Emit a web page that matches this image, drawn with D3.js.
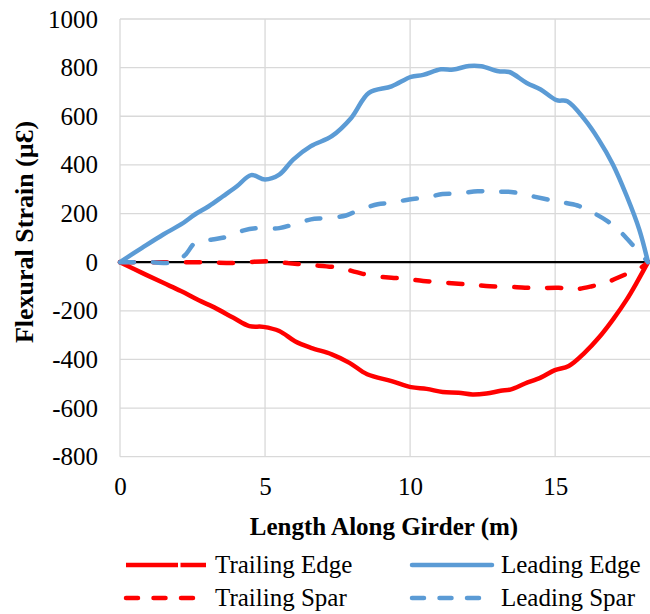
<!DOCTYPE html>
<html>
<head>
<meta charset="utf-8">
<script src="https://cdn.jsdelivr.net/npm/d3@7/dist/d3.min.js"></script>
<style>
  html, body { margin: 0; padding: 0; background: #fff; }
  svg { display: block; }
</style>
</head>
<body>
<svg id="chart" width="650" height="614"></svg>
<script>
// Flexural strain along the girder, four gauge lines (x in m, strain in µƐ)
const trailingEdgeX = [0, 0.76, 1.49, 2.1, 2.7, 3.31, 3.91, 4.46, 4.94, 5.49, 6.03, 6.58, 7.3, 7.91, 8.52, 9.36, 10.03, 10.57, 11.12, 11.67, 12.15, 12.63, 13.12, 13.48, 13.96, 14.5, 14.99, 15.47, 16.02, 16.5, 16.99, 17.47, 17.84, 18.2];
const trailingEdgeY = [0, -44, -85, -119, -156, -190, -229, -263, -266, -283, -325, -352, -379, -414, -461, -489, -514, -521, -534, -537, -544, -540, -529, -523, -499, -475, -444, -427, -372, -311, -236, -153, -78, 0];

const leadingEdgeX = [0, 0.76, 1.49, 2.1, 2.58, 3.06, 3.55, 4.03, 4.52, 5.0, 5.49, 5.97, 6.58, 7.3, 7.97, 8.58, 9.36, 10.03, 10.45, 11.06, 11.49, 12.03, 12.45, 13.05, 13.42, 14.02, 14.5, 15.05, 15.42, 16.02, 16.5, 16.99, 17.47, 17.9, 18.2];
const leadingEdgeY = [0, 59, 114, 155, 196, 230, 271, 312, 358, 340, 360, 422, 477, 518, 593, 696, 723, 762, 770, 793, 792, 807, 806, 785, 782, 737, 710, 666, 662, 586, 504, 402, 271, 134, 0];

const trailingSparX = [0, 1.0, 2.0, 3.0, 4.0, 5.1, 5.85, 6.58, 7.54, 8.15, 8.64, 9.36, 9.84, 10.45, 10.99, 11.67, 12.15, 12.75, 13.36, 13.96, 14.45, 15.12, 15.6, 16.27, 16.8, 17.41, 17.9, 18.2];
const trailingSparY = [0, 0, 0, -1, -3, 4, -5, -12, -23, -41, -55, -64, -68, -77, -82, -89, -93, -99, -101, -105, -107, -105, -112, -99, -82, -51, -27, 0];

const leadingSparX = [0, 1.0, 1.9, 2.25, 2.6, 3.18, 3.67, 4.27, 4.76, 5.49, 5.97, 6.58, 7.06, 7.79, 8.21, 8.88, 9.36, 9.97, 10.51, 11.12, 11.67, 12.33, 12.81, 13.48, 13.96, 14.62, 15.05, 15.77, 16.2, 16.8, 17.17, 17.71, 18.2];
const leadingSparY = [0, 0, 0, 30, 80, 93, 104, 131, 140, 140, 155, 176, 181, 192, 213, 238, 244, 258, 265, 280, 282, 292, 289, 289, 277, 261, 250, 233, 210, 169, 134, 66, 0];

const xTicks = [0, 5, 10, 15];
const yTicks = [-800, -600, -400, -200, 0, 200, 400, 600, 800, 1000];

const seriesNames = ["Trailing Edge", "Leading Edge", "Trailing Spar", "Leading Spar"];
const seriesColors = ["#FF0000", "#5B9BD5", "#FF0000", "#5B9BD5"];
const seriesDashed = [false, false, true, true];

const xLabel = "Length Along Girder (m)";
const yLabel = "Flexural Strain (µƐ)";

const serif = "'Liberation Serif', 'Times New Roman', serif";

const series = [
  d3.zip(trailingEdgeX, trailingEdgeY),
  d3.zip(leadingEdgeX, leadingEdgeY),
  d3.zip(trailingSparX, trailingSparY),
  d3.zip(leadingSparX, leadingSparY)
];

const svg = d3.select("#chart");
const plot = { left: 120, right: 648, top: 19, bottom: 456.7 };

const x = d3.scaleLinear().domain([0, 18.2]).range([plot.left, plot.right]);
const y = d3.scaleLinear().domain([-800, 1000]).range([plot.bottom, plot.top]);

const gridColor = "#d9d9d9";

// horizontal gridlines
svg.append("g").selectAll("line").data(yTicks).join("line")
  .attr("x1", plot.left).attr("x2", 650)
  .attr("y1", d => y(d)).attr("y2", d => y(d))
  .attr("stroke", gridColor).attr("stroke-width", 1.3);

// vertical gridlines
svg.append("g").selectAll("line").data(xTicks).join("line")
  .attr("x1", d => x(d)).attr("x2", d => x(d))
  .attr("y1", plot.top).attr("y2", plot.bottom)
  .attr("stroke", gridColor).attr("stroke-width", 1.3);

// y axis labels
const yAxis = d3.axisLeft(y).tickValues(yTicks).tickSize(0).tickPadding(22).tickFormat(d => String(d));
svg.append("g").attr("transform", `translate(${plot.left},0)`).call(yAxis)
  .call(g => g.select(".domain").remove())
  .selectAll("text")
  .style("font-family", serif)
  .style("font-size", "25px")
  .attr("fill", "#000");

// x axis labels along the bottom edge
const xAxis = d3.axisBottom(x).tickValues(xTicks).tickSize(0).tickPadding(21).tickFormat(d => String(d));
svg.append("g").attr("transform", `translate(0,${plot.bottom})`).call(xAxis)
  .call(g => g.select(".domain").remove())
  .selectAll("text")
  .style("font-family", serif)
  .style("font-size", "25px")
  .attr("fill", "#000");

// horizontal axis at zero strain
svg.append("line")
  .attr("x1", plot.left).attr("x2", plot.right)
  .attr("y1", y(0)).attr("y2", y(0))
  .attr("stroke", "#000").attr("stroke-width", 2.2);

// series lines
const line = d3.line().x(d => x(d[0])).y(d => y(d[1])).curve(d3.curveCatmullRom.alpha(0.5));

svg.append("g").selectAll("path").data(series).join("path")
  .attr("d", line)
  .attr("fill", "none")
  .attr("stroke", (d, i) => seriesColors[i])
  .attr("stroke-width", 4.5)
  .attr("stroke-linecap", "round")
  .attr("stroke-linejoin", "round")
  .attr("stroke-dasharray", (d, i) => seriesDashed[i] ? "14,19" : null);

// axis titles
svg.append("text")
  .attr("x", 384).attr("y", 535)
  .attr("text-anchor", "middle")
  .style("font-family", serif)
  .style("font-size", "25px").style("font-weight", "bold")
  .text(xLabel);

svg.append("text")
  .attr("transform", "translate(33,232) rotate(-90)")
  .attr("text-anchor", "middle")
  .style("font-family", serif)
  .style("font-size", "26px").style("font-weight", "bold")
  .text(yLabel);

// legend, two columns by two rows
const legendPos = [
  { x: 124, y: 565 }, { x: 410, y: 565 },
  { x: 124, y: 598 }, { x: 410, y: 598 }
];
const legend = svg.append("g").selectAll("g").data(seriesNames).join("g")
  .attr("transform", (d, i) => `translate(${legendPos[i].x},${legendPos[i].y})`);

legend.append("line")
  .attr("x1", 2).attr("x2", 82).attr("y1", 0).attr("y2", 0)
  .attr("stroke", (d, i) => seriesColors[i])
  .attr("stroke-width", 4.5)
  .attr("stroke-linecap", (d, i) => i === 0 ? "butt" : "round")
  .attr("stroke-dasharray", (d, i) => seriesDashed[i] ? "12,15.5" : (i === 0 ? "52,2.5,100" : null));

legend.append("text")
  .attr("x", 91).attr("y", 8)
  .style("font-family", serif)
  .style("font-size", "25px")
  .text(d => d);
</script>
</body>
</html>
